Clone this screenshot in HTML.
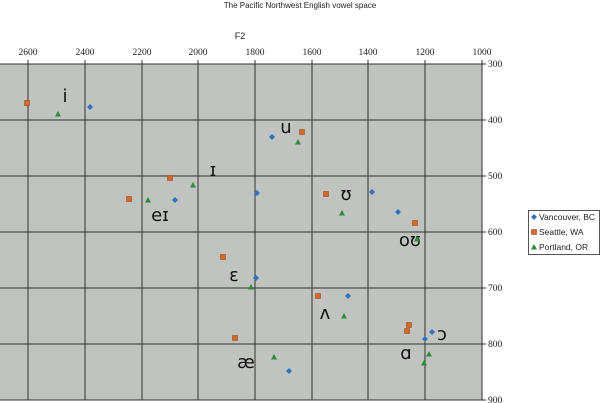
<!DOCTYPE html>
<html><head><style>
html,body{margin:0;padding:0;background:#fff;}
svg{display:block;font-family:"Liberation Sans","DejaVu Sans",sans-serif;}
</style></head><body>
<svg width="600" height="403" viewBox="0 0 600 403" xmlns="http://www.w3.org/2000/svg">
<defs>
<g id="d"><path d="M0,-3 L3,0 L0,3 L-3,0Z" fill="#2f74bf"/></g>
<g id="s"><rect x="-2.5" y="-2.5" width="5" height="5" fill="#d4692c" stroke="#a04a1a" stroke-width="0.6"/></g>
<g id="t"><path d="M0,-3 L3,2.5 L-3,2.5Z" fill="#2f8a3a"/></g>
</defs>
<text x="300" y="8" font-size="8" text-anchor="middle" fill="#222">The Pacific Northwest English vowel space</text>
<text x="240" y="39" font-size="9" text-anchor="middle" fill="#222">F2</text>
<g font-size="9.5" fill="#222" text-anchor="middle" font-family="'Liberation Serif',serif">
<text x="28" y="55">2600</text><text x="85" y="55">2400</text><text x="142" y="55">2200</text><text x="198" y="55">2000</text><text x="255" y="55">1800</text><text x="312" y="55">1600</text><text x="368" y="55">1400</text><text x="425" y="55">1200</text><text x="482" y="55">1000</text>
</g>
<rect x="0" y="64" width="482" height="336" fill="#c0c3bf"/>
<g stroke="#333" stroke-width="1">
<line x1="28" y1="60" x2="28" y2="400"/><line x1="85" y1="60" x2="85" y2="400"/><line x1="142" y1="60" x2="142" y2="400"/><line x1="198" y1="60" x2="198" y2="400"/><line x1="255" y1="60" x2="255" y2="400"/><line x1="312" y1="60" x2="312" y2="400"/><line x1="368" y1="60" x2="368" y2="400"/><line x1="425" y1="60" x2="425" y2="400"/><line x1="482" y1="60" x2="482" y2="400"/>
<line x1="0" y1="64" x2="486" y2="64"/><line x1="0" y1="120" x2="486" y2="120"/><line x1="0" y1="176" x2="486" y2="176"/><line x1="0" y1="232" x2="486" y2="232"/><line x1="0" y1="288" x2="486" y2="288"/><line x1="0" y1="344" x2="486" y2="344"/><line x1="0" y1="400" x2="486" y2="400"/>
</g>
<g font-size="9.5" fill="#222" font-family="'Liberation Serif',serif">
<text x="488" y="67">300</text><text x="488" y="123">400</text><text x="488" y="179">500</text><text x="488" y="235">600</text><text x="488" y="291">700</text><text x="488" y="347">800</text><text x="488" y="403">900</text>
</g>
<text transform="translate(546,233) rotate(-90)" font-size="9" text-anchor="middle" fill="#222">F1</text>
<g font-size="18" fill="#111" text-anchor="middle" font-family="'DejaVu Sans',sans-serif">
<text x="65" y="102">i</text><text x="286" y="133">u</text><text x="213" y="176">ɪ</text><text x="346" y="200">ʊ</text><text x="160" y="221">eɪ</text><text x="410" y="246">oʊ</text><text x="234" y="281">ɛ</text><text x="325" y="319">ʌ</text><text x="442" y="340">ɔ</text><text x="406" y="359">ɑ</text><text x="246" y="368">æ</text>
</g>
<g>
<use href="#d" x="90" y="107"/><use href="#d" x="272" y="137"/><use href="#d" x="257" y="193"/><use href="#d" x="175" y="200"/><use href="#d" x="372" y="192"/><use href="#d" x="398" y="212"/><use href="#d" x="256" y="278"/><use href="#d" x="348" y="296"/><use href="#d" x="289" y="371"/><use href="#d" x="432" y="332"/><use href="#d" x="425" y="339"/>
<use href="#s" x="27" y="103"/><use href="#s" x="302" y="132"/><use href="#s" x="129" y="199"/><use href="#s" x="170" y="178"/><use href="#s" x="326" y="194"/><use href="#s" x="415" y="223"/><use href="#s" x="223" y="257"/><use href="#s" x="318" y="296"/><use href="#s" x="235" y="338"/><use href="#s" x="409" y="325"/><use href="#s" x="407" y="331"/>
<use href="#t" x="58" y="114"/><use href="#t" x="298" y="142"/><use href="#t" x="193" y="185"/><use href="#t" x="148" y="200"/><use href="#t" x="342" y="213"/><use href="#t" x="417" y="239"/><use href="#t" x="251" y="287"/><use href="#t" x="344" y="316"/><use href="#t" x="274" y="357"/><use href="#t" x="429" y="354"/><use href="#t" x="424" y="363"/>
</g>
<rect x="528.5" y="210.5" width="71" height="44" fill="#fff" stroke="#555" stroke-width="1"/>
<use href="#d" x="534" y="217"/><use href="#s" x="534" y="232"/><use href="#t" x="534" y="247"/>
<g font-size="8.5" fill="#222">
<text x="539" y="220">Vancouver, BC</text><text x="539" y="235">Seattle, WA</text><text x="539" y="250">Portland, OR</text>
</g>
</svg>
</body></html>
